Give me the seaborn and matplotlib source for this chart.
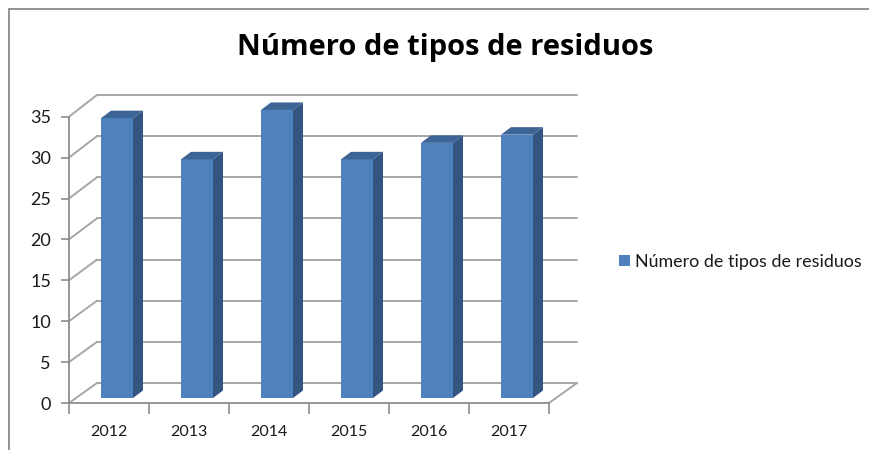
import matplotlib
matplotlib.use('Agg')
import matplotlib.pyplot as plt
from matplotlib.lines import Line2D
from matplotlib.patches import Polygon
import numpy as np
import pandas as pd
import seaborn as sns

# Chart data
years = ['2012', '2013', '2014', '2015', '2016', '2017']
counts = [34, 29, 35, 29, 31, 32]
y_ticks = [0, 5, 10, 15, 20, 25, 30, 35]
title = 'Número de tipos de residuos'

W, H = 869, 450
FRONT = '#4f81bd'
SIDE = '#335580'
TOP = '#3c6494'
GRID = '#a6a6a6'
AXIS = '#8c8c8c'

# Pixel size of one unit, used to fake the 3D offsets
PX_X = 80.0
PX_Y = 8.23
FRONT_Y = 8.18


def dx(px):
    return px / PX_X


def dy(px):
    return px / PX_Y


sns.set_theme(style='white')
plt.rcParams['font.family'] = ['Lato', 'DejaVu Sans']

df = pd.DataFrame({'year': years, 'count': counts})

fig = plt.figure(figsize=(W / 100, H / 100), dpi=100)
left, right, bottom, top = 69, 549, 403, 116.7
ax = fig.add_axes([left / W, 1 - bottom / H, (right - left) / W, (bottom - top) / H])
ax.patch.set_alpha(0)

sns.barplot(data=df, x='year', y='count', color=FRONT, saturation=1, width=0.4,
            label=title, ax=ax, zorder=3, clip_on=False)

x0 = -0.6
y0 = -dy(5)
ax.set_xlim(x0, x0 + 6)
ax.set_ylim(y0, y0 + dy(bottom - top))

# 3D faces of the bars
for bar in ax.patches:
    bar.set_linewidth(0)
    bx, bw, bh = bar.get_x(), bar.get_width(), bar.get_height()
    side = [(bx + bw, 0), (bx + bw + dx(10), dy(7.5)),
            (bx + bw + dx(10), bh + dy(7.5)), (bx + bw, bh)]
    cap = [(bx, bh), (bx + dx(10), bh + dy(7.5)),
           (bx + bw + dx(10), bh + dy(7.5)), (bx + bw, bh)]
    ax.add_patch(Polygon(side, closed=True, fc=SIDE, ec='none', zorder=3, clip_on=False))
    ax.add_patch(Polygon(cap, closed=True, fc=TOP, ec='none', zorder=3, clip_on=False))

# Back wall lines and the diagonals on the left wall
tick_pos = [v * FRONT_Y / PX_Y + y0 for v in y_ticks]
back_x0 = x0 + dx(28)
back_x1 = x0 + 6 + dx(28)
for v, tp in zip(y_ticks, tick_pos):
    back_y = v + dy(15)
    ax.plot([back_x0, back_x1], [back_y, back_y], color=GRID, lw=1.4, zorder=1, clip_on=False)
    ax.plot([x0, back_x0], [tp, back_y], color=GRID, lw=1.4, zorder=1, clip_on=False)
# right edge of the floor
ax.plot([x0 + 6, back_x1], [y0, dy(15)], color=GRID, lw=1.4, zorder=1, clip_on=False)

sns.despine(ax=ax, top=True, right=True)
for name in ['left', 'bottom']:
    ax.spines[name].set_color(AXIS)
    ax.spines[name].set_linewidth(1.3)
    ax.spines[name].set_zorder(2)

ax.set_yticks(tick_pos, labels=[str(v) for v in y_ticks])
ax.set_xticks(np.arange(7) + x0, labels=[''] * 7)
ax.set_xticks(np.arange(6) + x0 + 0.5, labels=years, minor=True)
ax.tick_params(axis='y', which='major', left=True, length=6, width=1.2, color=AXIS,
               labelsize=13, labelcolor='#1a1a1a', pad=7)
ax.tick_params(axis='x', which='major', bottom=True, length=8, width=1.2, color=AXIS)
ax.tick_params(axis='x', which='minor', bottom=False, length=0, labelsize=11.5,
               labelcolor='#1a1a1a', pad=16)
ax.set_xlabel('')
ax.set_ylabel('')

fig.text(445.5 / W, 1 - 47 / H, title, ha='center', va='center', fontsize=21,
         fontweight='bold', color='black', family=['Open Sans', 'DejaVu Sans'])

ax.legend(loc='center left', bbox_to_anchor=(618.5 / W, 1 - 262 / H),
          bbox_transform=fig.transFigure, frameon=False, fontsize=12.9, handlelength=0.62,
          handleheight=0.62, handletextpad=0.3, borderaxespad=0, borderpad=0,
          labelcolor='#1a1a1a')

# Frame of the screenshot
fig.add_artist(Line2D([8.5 / W, 8.5 / W], [0, 1 - 8.5 / H], color='#8a8a8a', lw=1.3))
fig.add_artist(Line2D([8.5 / W, 1], [1 - 8.5 / H, 1 - 8.5 / H], color='#8a8a8a', lw=1.3))

fig.savefig('out.png', dpi=100, facecolor='white')
